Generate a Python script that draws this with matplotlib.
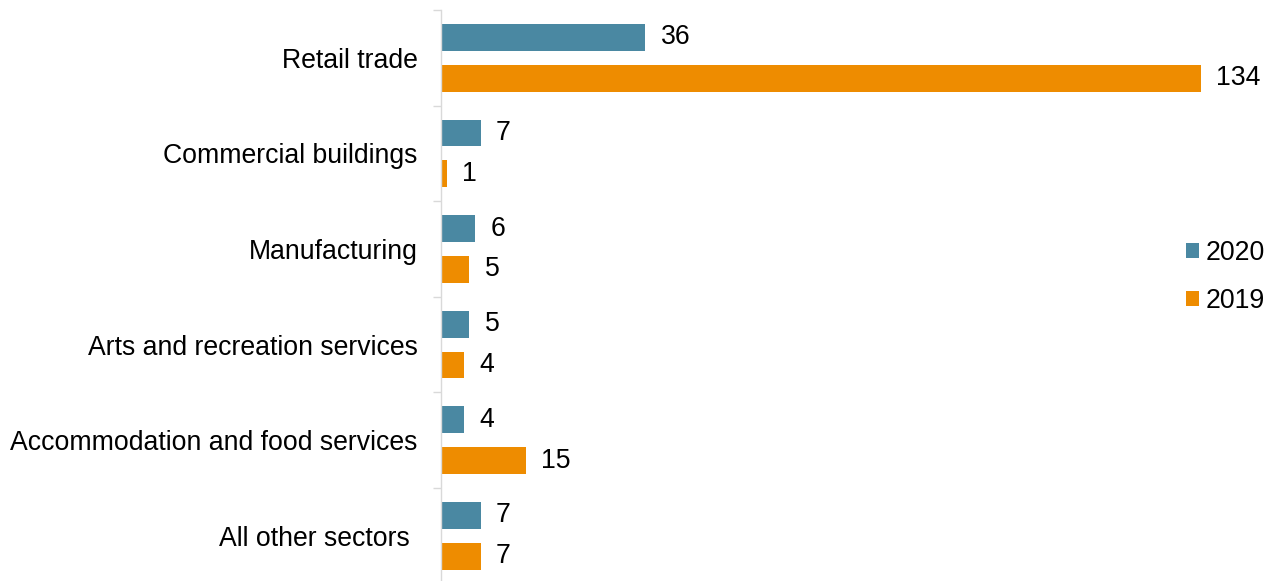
import matplotlib.pyplot as plt
import numpy as np

plt.rcParams['font.family'] = ['Liberation Sans', 'DejaVu Sans']

# Counts by sector, 2020 vs 2019
sectors = ['Retail trade', 'Commercial buildings', 'Manufacturing',
           'Arts and recreation services', 'Accommodation and food services',
           'All other sectors ']
vals_2020 = [36, 7, 6, 5, 4, 7]
vals_2019 = [134, 1, 5, 4, 15, 7]

teal = '#4a88a2'
orange = '#ee8c00'
fs = 19.2

fig = plt.figure(figsize=(12.74, 5.81), dpi=100)
# axes span from the value axis at x=441px to the end of the longest bar
ax = fig.add_axes([441/1274, -2.6/581, (1201-441)/1274, 573.6/581])

y = np.arange(len(sectors))
h = 0.28
off = 0.213
b20 = ax.barh(y - off, vals_2020, height=h, color=teal, label='2020')
b19 = ax.barh(y + off, vals_2019, height=h, color=orange, label='2019')

for bars in (b20, b19):
    for bar in bars:
        w = bar.get_width()
        ax.annotate(str(int(w)), (w, bar.get_y() + bar.get_height()/2),
                    xytext=(11, 0), textcoords='offset points',
                    va='center', ha='left', fontsize=fs, color='#000000')

ax.set_xlim(0, 134)
ax.set_ylim(len(sectors) - 0.5, -0.5)

ax.set_yticks(y)
ax.set_yticklabels(sectors, fontsize=fs)
ax.tick_params(axis='y', which='major', length=0, pad=17)
ax.set_yticks(np.arange(len(sectors) + 1) - 0.5, minor=True)
ax.tick_params(axis='y', which='minor', length=6, color='#d9d9d9', width=1)
ax.set_xticks([])

for s in ['top', 'right', 'bottom']:
    ax.spines[s].set_visible(False)
ax.spines['left'].set_color('#d9d9d9')
ax.spines['left'].set_linewidth(1)

fig.legend(handles=[b20, b19], labels=['2020', '2019'],
           loc='center left', bbox_to_anchor=(1175/1274, 1 - 277/581),
           frameon=False, fontsize=fs, handlelength=0.5, handleheight=0.5,
           handletextpad=0.25, labelspacing=0.8, borderaxespad=0)

fig.savefig('out.png', dpi=100)
